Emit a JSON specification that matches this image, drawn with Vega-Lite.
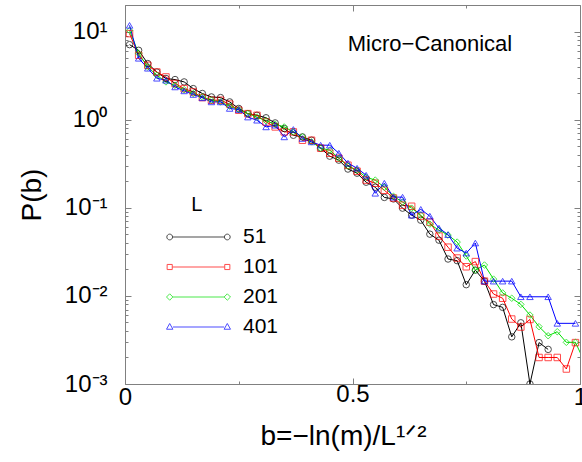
{
  "$schema": "https://vega.github.io/schema/vega-lite/v6.json",
  "width": 455,
  "height": 379,
  "autosize": {"type": "none"},
  "padding": {"left": 125, "top": 5, "right": 2, "bottom": 78},
  "background": "white",
  "config": {
    "view": {"stroke": null},
    "font": "Liberation Sans",
    "axis": {"grid": false, "domainColor": "#808080", "tickColor": "#808080", "labelFont": "Liberation Sans", "titleFont": "Liberation Sans", "labelColor": "black", "titleColor": "black", "titleFontWeight": "normal", "labelFlush": false, "labelOverlap": false}
  },
  "datasets": {
    "main": [
      {"L":"51","b":0.01,"P":7.10},{"L":"51","b":0.03,"P":6.12},{"L":"51","b":0.05,"P":4.33},{"L":"51","b":0.07,"P":3.47},{"L":"51","b":0.09,"P":2.93},{"L":"51","b":0.11,"P":2.85},{"L":"51","b":0.13,"P":2.68},{"L":"51","b":0.15,"P":2.25},{"L":"51","b":0.17,"P":1.98},{"L":"51","b":0.19,"P":1.81},{"L":"51","b":0.21,"P":1.78},{"L":"51","b":0.23,"P":1.59},{"L":"51","b":0.25,"P":1.34},{"L":"51","b":0.27,"P":1.17},{"L":"51","b":0.29,"P":1.12},{"L":"51","b":0.31,"P":1.05},{"L":"51","b":0.33,"P":0.918},{"L":"51","b":0.35,"P":0.793},{"L":"51","b":0.37,"P":0.665},{"L":"51","b":0.39,"P":0.637},{"L":"51","b":0.41,"P":0.584},{"L":"51","b":0.43,"P":0.474},{"L":"51","b":0.45,"P":0.385},{"L":"51","b":0.47,"P":0.347},{"L":"51","b":0.49,"P":0.275},{"L":"51","b":0.51,"P":0.247},{"L":"51","b":0.53,"P":0.195},{"L":"51","b":0.55,"P":0.171},{"L":"51","b":0.57,"P":0.131},{"L":"51","b":0.59,"P":0.126},{"L":"51","b":0.61,"P":0.099},{"L":"51","b":0.63,"P":0.0824},{"L":"51","b":0.65,"P":0.0723},{"L":"51","b":0.67,"P":0.0502},{"L":"51","b":0.69,"P":0.0429},{"L":"51","b":0.71,"P":0.0262},{"L":"51","b":0.73,"P":0.0251},{"L":"51","b":0.75,"P":0.0134},{"L":"51","b":0.77,"P":0.0196},{"L":"51","b":0.79,"P":0.0147},{"L":"51","b":0.81,"P":0.00796},{"L":"51","b":0.83,"P":0.00741},{"L":"51","b":0.85,"P":0.00343},{"L":"51","b":0.87,"P":0.00495},{"L":"51","b":0.89,"P":0.001},{"L":"51","b":0.91,"P":0.00295},{"L":"51","b":0.93,"P":0.00247},
      {"L":"101","b":0.01,"P":9.47},{"L":"101","b":0.03,"P":5.37},{"L":"101","b":0.05,"P":4.14},{"L":"101","b":0.07,"P":3.47},{"L":"101","b":0.09,"P":3.05},{"L":"101","b":0.11,"P":2.57},{"L":"101","b":0.13,"P":2.25},{"L":"101","b":0.15,"P":2.06},{"L":"101","b":0.17,"P":1.78},{"L":"101","b":0.19,"P":1.66},{"L":"101","b":0.21,"P":1.66},{"L":"101","b":0.23,"P":1.50},{"L":"101","b":0.25,"P":1.28},{"L":"101","b":0.27,"P":1.17},{"L":"101","b":0.29,"P":1.12},{"L":"101","b":0.31,"P":0.94},{"L":"101","b":0.33,"P":0.827},{"L":"101","b":0.35,"P":0.726},{"L":"101","b":0.37,"P":0.726},{"L":"101","b":0.39,"P":0.584},{"L":"101","b":0.41,"P":0.584},{"L":"101","b":0.43,"P":0.474},{"L":"101","b":0.45,"P":0.416},{"L":"101","b":0.47,"P":0.365},{"L":"101","b":0.49,"P":0.304},{"L":"101","b":0.51,"P":0.260},{"L":"101","b":0.53,"P":0.206},{"L":"101","b":0.55,"P":0.190},{"L":"101","b":0.57,"P":0.158},{"L":"101","b":0.59,"P":0.129},{"L":"101","b":0.61,"P":0.107},{"L":"101","b":0.63,"P":0.104},{"L":"101","b":0.65,"P":0.0804},{"L":"101","b":0.67,"P":0.0687},{"L":"101","b":0.69,"P":0.0477},{"L":"101","b":0.71,"P":0.0357},{"L":"101","b":0.73,"P":0.0269},{"L":"101","b":0.75,"P":0.0214},{"L":"101","b":0.77,"P":0.0245},{"L":"101","b":0.79,"P":0.0147},{"L":"101","b":0.81,"P":0.0105},{"L":"101","b":0.83,"P":0.0094},{"L":"101","b":0.85,"P":0.00546},{"L":"101","b":0.87,"P":0.00443},{"L":"101","b":0.89,"P":0.0054},{"L":"101","b":0.91,"P":0.0020},{"L":"101","b":0.93,"P":0.0020},{"L":"101","b":0.95,"P":0.0020},{"L":"101","b":0.97,"P":0.00148},{"L":"101","b":0.99,"P":0.00295},
      {"L":"201","b":0.01,"P":10.3},{"L":"201","b":0.03,"P":5.62},{"L":"201","b":0.05,"P":3.96},{"L":"201","b":0.07,"P":3.19},{"L":"201","b":0.09,"P":2.68},{"L":"201","b":0.11,"P":2.45},{"L":"201","b":0.13,"P":2.19},{"L":"201","b":0.15,"P":1.98},{"L":"201","b":0.17,"P":1.81},{"L":"201","b":0.19,"P":1.66},{"L":"201","b":0.21,"P":1.59},{"L":"201","b":0.23,"P":1.42},{"L":"201","b":0.25,"P":1.30},{"L":"201","b":0.27,"P":1.17},{"L":"201","b":0.29,"P":1.07},{"L":"201","b":0.31,"P":0.97},{"L":"201","b":0.33,"P":0.887},{"L":"201","b":0.35,"P":0.827},{"L":"201","b":0.37,"P":0.726},{"L":"201","b":0.39,"P":0.637},{"L":"201","b":0.41,"P":0.559},{"L":"201","b":0.43,"P":0.474},{"L":"201","b":0.45,"P":0.450},{"L":"201","b":0.47,"P":0.365},{"L":"201","b":0.49,"P":0.297},{"L":"201","b":0.51,"P":0.267},{"L":"201","b":0.53,"P":0.222},{"L":"201","b":0.55,"P":0.206},{"L":"201","b":0.57,"P":0.171},{"L":"201","b":0.59,"P":0.135},{"L":"201","b":0.61,"P":0.116},{"L":"201","b":0.63,"P":0.099},{"L":"201","b":0.65,"P":0.0824},{"L":"201","b":0.67,"P":0.0652},{"L":"201","b":0.69,"P":0.0557},{"L":"201","b":0.71,"P":0.0490},{"L":"201","b":0.73,"P":0.0408},{"L":"201","b":0.75,"P":0.0283},{"L":"201","b":0.77,"P":0.0196},{"L":"201","b":0.79,"P":0.0224},{"L":"201","b":0.81,"P":0.0155},{"L":"201","b":0.83,"P":0.0108},{"L":"201","b":0.85,"P":0.0094},{"L":"201","b":0.87,"P":0.00801},{"L":"201","b":0.89,"P":0.00606},{"L":"201","b":0.91,"P":0.00447},{"L":"201","b":0.93,"P":0.00353},{"L":"201","b":0.95,"P":0.00392},{"L":"201","b":0.97,"P":0.00297},{"L":"201","b":0.99,"P":0.00297},{"L":"201","b":1.01,"P":0.00178},
      {"L":"401","b":0.01,"P":11.75},{"L":"401","b":0.03,"P":4.97},{"L":"401","b":0.05,"P":3.83},{"L":"401","b":0.07,"P":2.95},{"L":"401","b":0.09,"P":2.80},{"L":"401","b":0.11,"P":2.35},{"L":"401","b":0.13,"P":2.12},{"L":"401","b":0.15,"P":1.93},{"L":"401","b":0.17,"P":1.77},{"L":"401","b":0.19,"P":1.59},{"L":"401","b":0.21,"P":1.59},{"L":"401","b":0.23,"P":1.34},{"L":"401","b":0.25,"P":1.30},{"L":"401","b":0.27,"P":1.07},{"L":"401","b":0.29,"P":0.985},{"L":"401","b":0.31,"P":0.827},{"L":"401","b":0.33,"P":0.864},{"L":"401","b":0.35,"P":0.637},{"L":"401","b":0.37,"P":0.774},{"L":"401","b":0.39,"P":0.611},{"L":"401","b":0.41,"P":0.559},{"L":"401","b":0.43,"P":0.513},{"L":"401","b":0.45,"P":0.513},{"L":"401","b":0.47,"P":0.416},{"L":"401","b":0.49,"P":0.321},{"L":"401","b":0.51,"P":0.281},{"L":"401","b":0.53,"P":0.234},{"L":"401","b":0.55,"P":0.146},{"L":"401","b":0.57,"P":0.190},{"L":"401","b":0.59,"P":0.132},{"L":"401","b":0.61,"P":0.132},{"L":"401","b":0.63,"P":0.0824},{"L":"401","b":0.65,"P":0.096},{"L":"401","b":0.67,"P":0.0804},{"L":"401","b":0.69,"P":0.0587},{"L":"401","b":0.71,"P":0.0496},{"L":"401","b":0.73,"P":0.0348},{"L":"401","b":0.75,"P":0.0306},{"L":"401","b":0.77,"P":0.0398},{"L":"401","b":0.79,"P":0.0147},{"L":"401","b":0.81,"P":0.0147},{"L":"401","b":0.83,"P":0.0147},{"L":"401","b":0.85,"P":0.0147},{"L":"401","b":0.87,"P":0.00977},{"L":"401","b":0.89,"P":0.00977},{"L":"401","b":0.93,"P":0.00977},{"L":"401","b":0.95,"P":0.00488},{"L":"401","b":0.99,"P":0.00488}
    ],
    "legendrows": [
      {"L":"51","b":-1,"P":1},{"L":"101","b":-1,"P":1},{"L":"201","b":-1,"P":1},{"L":"401","b":-1,"P":1}
    ],
    "notes": [
      {"b":0.6703,"P":7.16,"t":"Micro−Canonical","s":22},
      {"b":0.158,"P":0.108,"t":"L","s":20}
    ]
  },
  "resolve": {"scale": {"color": "independent", "shape": "independent"}, "axis": {"x": "independent", "y": "independent"}},
  "layer": [
    {
      "data": {"name": "main"},
      "mark": {"type": "line", "strokeWidth": 1, "clip": true},
      "encoding": {
        "x": {"field": "b", "type": "quantitative", "scale": {"domain": [0, 1], "nice": false, "zero": false},
          "axis": {"orient": "bottom", "values": [0, 0.25, 0.5, 0.75, 1], "labelExpr": "datum.value==0?'0':datum.value==0.5?'0.5':datum.value==1?'1':''", "tickSize": {"condition": {"test": "datum.value==0.5", "value": -6}, "value": -3}, "labelFontSize": 24, "labelPadding": 4, "title": "b=−ln(m)/L¹ᐟ²", "titleFontSize": 28, "titlePadding": 13, "titleX": 218}},
        "y": {"field": "P", "type": "quantitative", "scale": {"type": "log", "domain": [0.001, 20], "nice": false},
          "axis": {"orient": "left", "values": [0.001,0.002,0.003,0.004,0.005,0.006,0.007,0.008,0.009,0.01,0.02,0.03,0.04,0.05,0.06,0.07,0.08,0.09,0.1,0.2,0.3,0.4,0.5,0.6,0.7,0.8,0.9,1,2,3,4,5,6,7,8,9,10,20],
            "labelExpr": "datum.value==10?'10¹':datum.value==1?'10⁰':datum.value==0.1?'10⁻¹':datum.value==0.01?'10⁻²':datum.value==0.001?'10⁻³':''",
            "tickSize": {"condition": {"test": "indexof([0.001,0.01,0.1,1,10], datum.value) >= 0", "value": -6}, "value": -3},
            "labelFontSize": 24, "labelPadding": 24, "title": "P(b)", "titleFontSize": 28, "titlePadding": 18}},
        "color": {"field": "L", "type": "nominal", "scale": {"domain": ["51","101","201","401"], "range": ["#000000","#ff0000","#00e000","#0000ff"]}, "legend": null},
        "detail": {"field": "L"}
      }
    },
    {
      "data": {"name": "main"},
      "mark": {"type": "point", "filled": false, "strokeWidth": 1, "size": 42, "clip": true},
      "encoding": {
        "x": {"field": "b", "type": "quantitative", "axis": null},
        "y": {"field": "P", "type": "quantitative", "scale": {"type": "log"}, "axis": null},
        "color": {"field": "L", "type": "nominal", "scale": {"domain": ["51","101","201","401"], "range": ["#000000","#ff0000","#00e000","#0000ff"]}, "legend": null},
        "shape": {"field": "L", "type": "nominal", "scale": {"domain": ["51","101","201","401"], "range": ["circle","square","diamond","triangle-up"]}, "legend": null}
      }
    },
    {
      "data": {"name": "legendrows"},
      "mark": {"type": "point", "filled": false, "strokeWidth": 1, "clip": true},
      "encoding": {
        "x": {"field": "b", "type": "quantitative", "axis": null},
        "y": {"field": "P", "type": "quantitative", "scale": {"type": "log"}, "axis": null},
        "color": {"field": "L", "type": "nominal", "scale": {"domain": ["51","101","201","401"], "range": ["#000000","#ff0000","#00e000","#0000ff"]},
          "legend": {"orient": "none", "legendX": 41, "legendY": 221, "title": null, "symbolSize": 4096, "symbolStrokeWidth": 1, "labelFontSize": 21, "labelFont": "Liberation Sans", "labelColor": "black", "labelOffset": 12, "rowPadding": 8, "padding": 0, "clipHeight": 22}},
        "shape": {"field": "L", "type": "nominal", "scale": {"domain": ["51","101","201","401"], "range": [
          "M-0.81,0H0.81M-0.99,0A0.09,0.09,0,1,1,-0.81,0A0.09,0.09,0,1,1,-0.99,0M0.81,0A0.09,0.09,0,1,1,0.99,0A0.09,0.09,0,1,1,0.81,0",
          "M-0.82,0H0.82M-0.98,-0.08H-0.82V0.08H-0.98ZM0.82,-0.08H0.98V0.08H0.82Z",
          "M-0.8,0H0.8M-1,0L-0.9,-0.1L-0.8,0L-0.9,0.1ZM0.8,0L0.9,-0.1L1,0L0.9,0.1Z",
          "M-0.8,0H0.8M-1,0.07L-0.9,-0.11L-0.8,0.07ZM0.8,0.07L0.9,-0.11L1,0.07Z"]},
          "legend": {"orient": "none", "legendX": 41, "legendY": 221, "title": null, "symbolSize": 4096, "symbolStrokeWidth": 1, "labelFontSize": 21, "labelFont": "Liberation Sans", "labelColor": "black", "labelOffset": 12, "rowPadding": 8, "padding": 0, "clipHeight": 22}}
      }
    },
    {
      "data": {"name": "notes"},
      "mark": {"type": "text", "font": "Liberation Sans", "color": "black", "align": "center", "baseline": "middle"},
      "encoding": {
        "x": {"field": "b", "type": "quantitative",
          "axis": {"orient": "top", "values": [0, 0.25, 0.5, 0.75, 1], "labels": false, "title": null, "tickSize": {"condition": {"test": "datum.value==0.5", "value": -6}, "value": -3}}},
        "y": {"field": "P", "type": "quantitative", "scale": {"type": "log"},
          "axis": {"orient": "right", "values": [0.001,0.002,0.003,0.004,0.005,0.006,0.007,0.008,0.009,0.01,0.02,0.03,0.04,0.05,0.06,0.07,0.08,0.09,0.1,0.2,0.3,0.4,0.5,0.6,0.7,0.8,0.9,1,2,3,4,5,6,7,8,9,10,20], "labels": false, "title": null,
            "tickSize": {"condition": {"test": "indexof([0.001,0.01,0.1,1,10], datum.value) >= 0", "value": -6}, "value": -3}}},
        "text": {"field": "t"},
        "size": {"field": "s", "type": "quantitative", "scale": null}
      }
    }
  ]
}
